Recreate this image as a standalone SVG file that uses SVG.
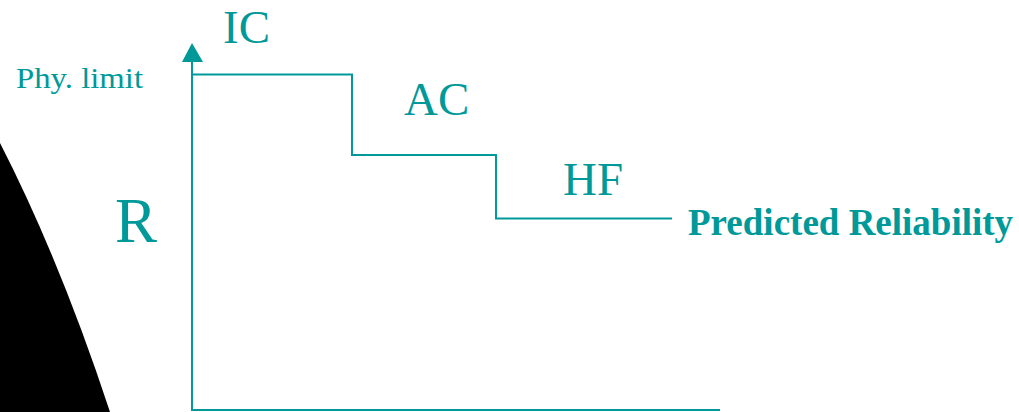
<svg xmlns="http://www.w3.org/2000/svg" width="1019" height="412" viewBox="0 0 1019 412">
<style>
.t{font-family:'Liberation Serif','Times New Roman',Times,serif;fill:#009999}
.ln{stroke:#009999;stroke-width:2;fill:none}
</style>
<rect width="1019" height="412" fill="#ffffff"/>
<path id="shape" d="M0,143 Q60,260 110,412 L0,412 Z" fill="#000000"/>
<g id="connectors">
<line class="ln" x1="192" y1="58" x2="192" y2="411"/>
<line class="ln" x1="191" y1="410" x2="720" y2="410"/>
<polygon points="192,43 182,62 203,62" fill="#009999"/>
<polyline class="ln" points="192,74.5 352,74.5 352,155 496,155 496,218.5 672,218.5"/>
</g>
<g id="ic"><text class="t" x="223" y="43" font-size="47">IC</text></g>
<g id="phy"><text class="t" x="16" y="88" font-size="29" textLength="127" lengthAdjust="spacingAndGlyphs">Phy. limit</text></g>
<g id="r"><text class="t" x="115" y="242" font-size="63">R</text></g>
<g id="ac"><text class="t" x="404" y="115" font-size="47">AC</text></g>
<g id="hf"><text class="t" x="563" y="195" font-size="47">HF</text></g>
<g id="pred"><text class="t" x="688" y="235" font-size="37" font-weight="bold">Predicted Reliability</text></g>
</svg>
